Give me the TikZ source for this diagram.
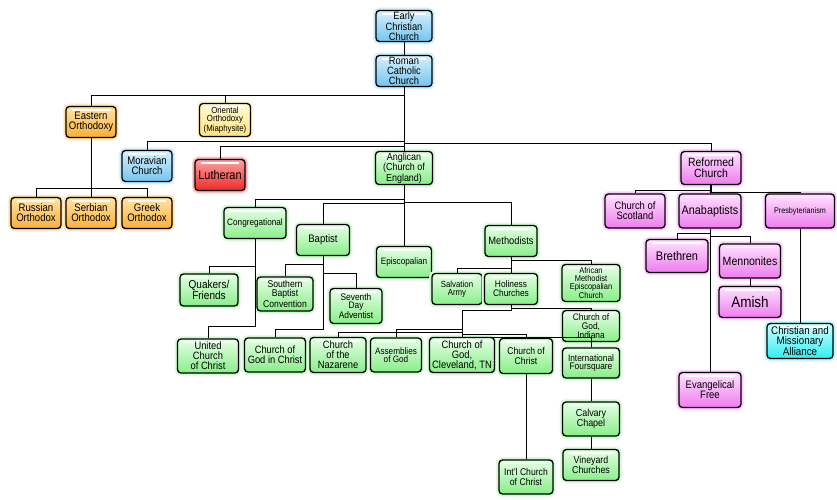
\documentclass[tikz,border=0pt]{standalone}
\usepackage{fontspec}
\setmainfont[FakeStretch=0.88]{Liberation Sans}
\definecolor{bluetop}{HTML}{D6F0FC}
\definecolor{bluebot}{HTML}{74C4EE}
\definecolor{orgtop}{HTML}{FFE3A4}
\definecolor{orgbot}{HTML}{F8B03A}
\definecolor{yeltop}{HTML}{FFFBD6}
\definecolor{yelbot}{HTML}{FFE37C}
\definecolor{redtop}{HTML}{FFA0A0}
\definecolor{redbot}{HTML}{EE2A2A}
\definecolor{grntop}{HTML}{E6FFE6}
\definecolor{grnbot}{HTML}{88EE88}
\definecolor{pnktop}{HTML}{FFE2FF}
\definecolor{pnkbot}{HTML}{EE7CEE}
\definecolor{cyntop}{HTML}{D0FFFF}
\definecolor{cynbot}{HTML}{30EEF0}

\begin{document}
\begin{tikzpicture}[x=1pt,y=-1pt,
    fs/.style={font=\fontsize{#1}{\dimexpr#1pt*93/100\relax}\selectfont},
    box/.style={draw,line width=1.3pt,rounded corners=3.5pt,align=center,
        inner sep=0.5pt,minimum height=31pt,fs=10.9,
        path picture={\draw[white,line width=1.2pt]
            ([xshift=6pt,yshift=-3.5pt]path picture bounding box.north west) --
            ([xshift=-6pt,yshift=-3.5pt]path picture bounding box.north east);}},
    glow/.style={preaction={draw=#1!22,line width=6pt},preaction={draw=#1!40,line width=3.6pt}},
    blu/.style={box,glow=bluebot,top color=bluetop,bottom color=bluebot},
    org/.style={box,glow=orgbot,top color=orgtop,bottom color=orgbot},
    yel/.style={box,glow=yelbot,top color=yeltop,bottom color=yelbot},
    rd/.style={box,glow=redbot,top color=redtop,bottom color=redbot},
    grn/.style={box,glow=grnbot,top color=grntop,bottom color=grnbot},
    pnk/.style={box,glow=pnkbot,top color=pnktop,bottom color=pnkbot},
    cyn/.style={box,glow=cynbot,top color=cyntop,bottom color=cynbot},
    elbow/.style={to path={-- ++(0,#1) -| (\tikztotarget)}},
    link/.style={line width=0.9pt}]
\useasboundingbox (0,0) rectangle (837,500);

% top of the tree
\node[blu,minimum width=56pt,fs=10.6] (early) at (404,26) {Early\\Christian\\Church};
\node[blu,minimum width=56pt,fs=10.6] (roman) at (404,71) {Roman\\Catholic\\Church};
\node[org,minimum width=50pt] (eastern) at (91,122) {Eastern\\Orthodoxy};
\node[yel,minimum width=51pt,minimum height=33pt,fs=8.9] (oriental) at (225,120) {Oriental\\Orthodoxy\\(Miaphysite)};
\node[blu,minimum width=50pt] (moravian) at (147,166) {Moravian\\Church};
\node[rd,minimum width=50pt,fs=12.5] (lutheran) at (220,175) {Lutheran};
\node[grn,minimum width=57pt,minimum height=33pt,fs=10.2] (anglican) at (404,168) {Anglican\\(Church of\\England)};
\node[pnk,minimum width=60pt,minimum height=33pt,fs=11.9] (reformed) at (711,168) {Reformed\\Church};

% eastern branch
\node[org,minimum width=50pt] (russian) at (36,213) {Russian\\Orthodox};
\node[org,minimum width=50pt] (serbian) at (91,213) {Serbian\\Orthodox};
\node[org,minimum width=50pt] (greek) at (147,213) {Greek\\Orthodox};

% anglican branch
\node[grn,minimum width=62pt,fs=9.3] (cong) at (255,223) {Congregational};
\node[grn,minimum width=53pt] (baptist) at (323,240) {Baptist};
\node[grn,minimum width=55pt,fs=9.3] (episc) at (404,262) {Episcopalian};
\node[grn,minimum width=52pt,fs=10.6] (method) at (511,241) {Methodists};
\node[grn,minimum width=58pt,minimum height=32pt,fs=11.4] (quakers) at (209,290) {Quakers/\\Friends};
\node[grn,minimum width=56pt,minimum height=34pt,fs=9.8] (southern) at (285,294) {Southern\\Baptist\\Convention};
\node[grn,minimum width=52pt,minimum height=35pt,fs=9.5] (seventh) at (356,306) {Seventh\\Day\\Adventist};
\node[grn,minimum width=61pt,minimum height=34pt,fs=10.6] (united) at (208,356) {United\\Church\\of Christ};
\node[grn,minimum width=61pt,minimum height=34pt,fs=10.6] (cogic) at (275,355) {Church of\\God in Christ};
\node[grn,minimum width=56pt,minimum height=35pt,fs=10.6] (nazarene) at (338,355) {Church\\of the\\Nazarene};
\node[grn,minimum width=51pt,minimum height=34pt,fs=9.3] (assemb) at (396,355) {Assemblies\\of God};
\node[grn,minimum width=65pt,minimum height=35pt,fs=10.7] (cleveland) at (462,355) {Church of\\God,\\Cleveland, TN};
\node[grn,minimum width=53pt,minimum height=35pt,fs=9.8] (christ) at (526,356) {Church of\\Christ};
\node[grn,minimum width=57pt,minimum height=30pt,fs=9.5] (foursq) at (591,363) {International\\Foursquare};
\node[grn,minimum width=50pt,fs=8.9] (salvation) at (457,289) {Salvation\\Army};
\node[grn,minimum width=53pt,fs=9.5] (holiness) at (511,289) {Holiness\\Churches};
\node[grn,minimum width=58pt,minimum height=37pt,fs=8.5] (ame) at (591,283) {African\\Methodist\\Episcopalian\\Church};
\node[grn,minimum width=57pt,fs=9.5] (indiana) at (591,326) {Church of\\God,\\Indiana};
\node[grn,minimum width=57pt,minimum height=34pt,fs=10.2] (calvary) at (591,419) {Calvary\\Chapel};
\node[grn,minimum width=56pt,fs=10] (vineyard) at (591,465) {Vineyard\\Churches};
\node[grn,minimum width=54pt,minimum height=34pt,fs=9.8] (intl) at (526,477) {Int'l Church\\of Christ};
\coordinate (hj) at (462,312);

% reformed branch
\node[pnk,minimum width=60pt,minimum height=34pt,fs=10.7] (scotland) at (635,211) {Church of\\Scotland};
\node[pnk,minimum width=62pt,minimum height=34pt,fs=12.3] (anabapt) at (710,211) {Anabaptists};
\node[pnk,minimum width=69pt,minimum height=34pt,fs=8.2] (presby) at (800,211) {Presbyterianism};
\node[pnk,minimum width=62pt,minimum height=33pt,fs=12.5] (brethren) at (677,256) {Brethren};
\node[pnk,minimum width=61pt,minimum height=34pt,fs=12] (mennon) at (750,261) {Mennonites};
\node[pnk,minimum width=62pt,fs=15.3] (amish) at (750,302) {Amish};
\node[cyn,minimum width=66pt,minimum height=35pt,fs=11.1] (cma) at (800,341) {Christian and\\Missionary\\Alliance};
\node[pnk,minimum width=62pt,minimum height=35pt,fs=10.8] (evfree) at (710,390) {Evangelical\\Free};

% connectors
\begin{scope}[link]
\draw (early) -- (roman);
\draw (roman) -- (anglican);
\draw (roman.south) to[elbow=8] (eastern.north);
\draw (roman.south) to[elbow=8] (oriental.north);
\draw (roman.south) to[elbow=54] (moravian.north);
\draw (roman.south) to[elbow=56] (reformed.north);
\draw (roman.south) to[elbow=59] (lutheran.north);
\draw (eastern.south) to[elbow=50] (russian.north);
\draw (eastern) -- (serbian);
\draw (eastern.south) to[elbow=50] (greek.north);
\draw (anglican) -- (episc);
\draw (anglican.south) to[elbow=14] (cong.north);
\draw (anglican.south) to[elbow=18] (baptist.north);
\draw (anglican.south) to[elbow=17] (method.north);
\draw (cong.south) to[elbow=27] (quakers.north);
\draw (cong.south) to[elbow=87] (united.north);
\draw (baptist.south) to[elbow=8] (southern.north);
\draw (baptist.south) to[elbow=17] (seventh.north);
\draw (baptist.south) to[elbow=73] (cogic.north);
\draw (method.south) to[elbow=11] (salvation.north);
\draw (method.south) to[elbow=3] (ame.north);
\draw (method) -- (holiness);
\draw (holiness.south) to[elbow=3] (indiana.north);
\draw (holiness.south) to[elbow=5] (hj);
\draw (hj) to[elbow=20] (nazarene.north);
\draw (hj) to[elbow=17] (assemb.north);
\draw (hj) -- (cleveland.north);
\draw (hj) to[elbow=22] (christ.north);
\draw (hj) to[elbow=25] (foursq.north);
\draw (christ) -- (intl);
\draw (foursq) -- (calvary);
\draw (calvary) -- (vineyard);
\draw (reformed.south) to[elbow=5] (scotland.north);
\draw (reformed) -- (anabapt);
\draw (reformed.south) to[elbow=7] (presby.north);
\draw (anabapt.south) to[elbow=5] (brethren.north);
\draw (anabapt.south) to[elbow=8] (mennon.north);
\draw (anabapt) -- (evfree);
\draw (mennon) -- (amish);
\draw (presby) -- (cma);
\end{scope}
\end{tikzpicture}
\end{document}
